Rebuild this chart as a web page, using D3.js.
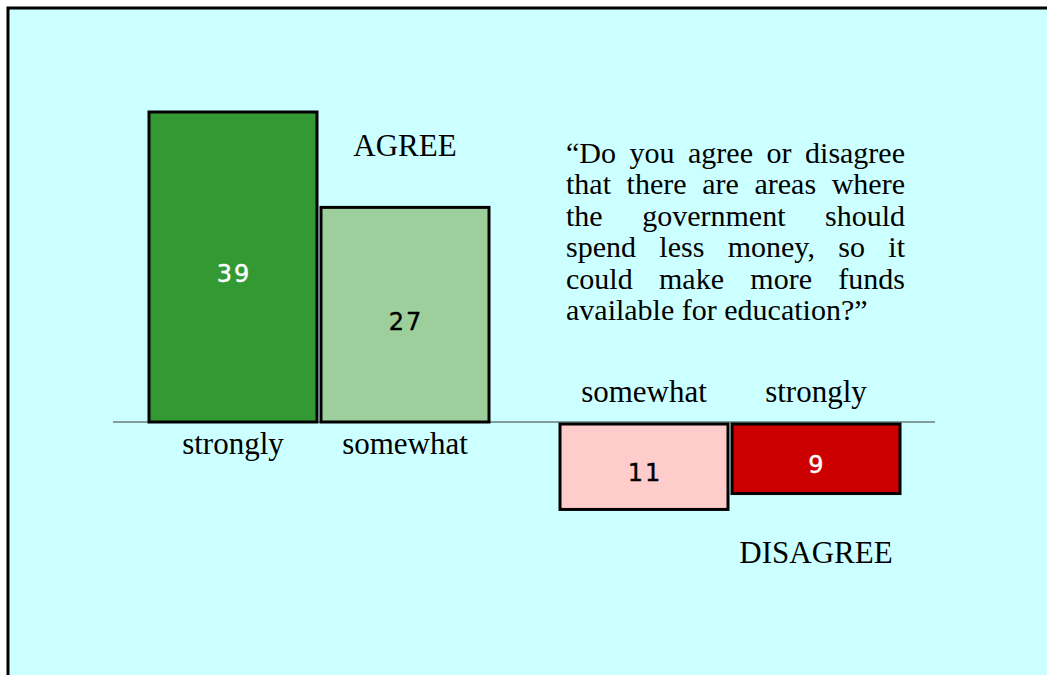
<!DOCTYPE html>
<html>
<head>
<meta charset="utf-8">
<script src="https://cdn.jsdelivr.net/npm/d3@7"></script>
<style>
  html, body { margin: 0; padding: 0; background: #ffffff; }
  svg { display: block; }
</style>
</head>
<body>
<svg id="chart" width="1047" height="675"></svg>
<script>
// Survey responses (percent)
const groups = ["AGREE", "DISAGREE"];
const levelsByGroup = {
  AGREE: ["strongly", "somewhat"],
  DISAGREE: ["somewhat", "strongly"]
};
const responseGroup = ["AGREE", "AGREE", "DISAGREE", "DISAGREE"];
const responseLevel = ["strongly", "somewhat", "somewhat", "strongly"];
const responseValue = [39, 27, 11, 9];
const responseSign = [1, 1, -1, -1];
const barColors = ["#339933", "#9ccf9c", "#ffcccc", "#cc0000"];
const valueColors = ["#ffffff", "#000000", "#000000", "#ffffff"];
const groupLabelLevel = { AGREE: "somewhat", DISAGREE: "strongly" };

const questionLines = [
  "\u201cDo you agree or disagree",
  "that there are areas where",
  "the government should",
  "spend less money, so it",
  "could make more funds",
  "available for education?\u201d"
];

const data = responseValue.map((v, i) => ({
  group: responseGroup[i],
  level: responseLevel[i],
  value: v * responseSign[i],
  label: String(v),
  fill: barColors[i],
  textColor: valueColors[i]
}));

const svg = d3.select("#chart");
const serif = "'Liberation Serif', 'Times New Roman', serif";
const sans = "'DejaVu Sans', Verdana, sans-serif";

// panel background with a heavy frame on the top and left edges
svg.append("rect")
  .attr("x", 8).attr("y", 8)
  .attr("width", 1060).attr("height", 700)
  .attr("fill", "#ccffff")
  .attr("stroke", "#000").attr("stroke-width", 3);

// scales
const x0 = d3.scaleBand().domain(groups).range([149, 900])
  .paddingInner(71 / 411).paddingOuter(0);
const x1 = {};
groups.forEach(g => {
  x1[g] = d3.scaleBand().domain(levelsByGroup[g]).range([0, x0.bandwidth()])
    .paddingInner(4 / 172).paddingOuter(0);
});
const y = d3.scaleLinear().domain([0, 39]).range([422, 112]);
const xPos = d => x0(d.group) + x1[d.group](d.level);
const bw = d => x1[d.group].bandwidth();
const gapBelow = 2;

// zero line
const [rx0, rx1] = x0.range();
svg.append("line")
  .attr("x1", rx0 - 36).attr("x2", rx1 + 35)
  .attr("y1", y(0)).attr("y2", y(0))
  .attr("stroke", "#6b7b7b").attr("stroke-width", 1.6);

// bars
svg.selectAll("rect.bar").data(data).enter().append("rect")
  .attr("class", "bar")
  .attr("x", xPos)
  .attr("width", bw)
  .attr("y", d => d.value >= 0 ? y(d.value) : y(0) + gapBelow)
  .attr("height", d => Math.abs(y(d.value) - y(0)) - (d.value < 0 ? gapBelow : 0))
  .attr("fill", d => d.fill)
  .attr("stroke", "#000").attr("stroke-width", 3);

// value labels inside bars
svg.selectAll("text.val").data(data).enter().append("text")
  .attr("class", "val")
  .attr("x", d => xPos(d) + bw(d) / 2 + 1)
  .attr("y", d => (y(d.value) + y(0)) / 2 + 15)
  .attr("text-anchor", "middle")
  .attr("font-family", sans)
  .attr("font-size", 24)
  .attr("letter-spacing", 2)
  .attr("fill", d => d.textColor)
  .attr("stroke", d => d.textColor)
  .attr("stroke-width", 0.4)
  .text(d => d.label);

// level labels: below the line for agree, above for disagree
svg.selectAll("text.level").data(data).enter().append("text")
  .attr("class", "level")
  .attr("x", d => xPos(d) + bw(d) / 2)
  .attr("y", d => d.value >= 0 ? y(0) + 32 : y(0) - 20)
  .attr("text-anchor", "middle")
  .attr("font-family", serif)
  .attr("font-size", 31)
  .attr("fill", "#000")
  .text(d => d.level);

// group labels
groups.forEach(g => {
  const lvl = groupLabelLevel[g];
  const cx = x0(g) + x1[g](lvl) + x1[g].bandwidth() / 2;
  svg.append("text")
    .attr("x", cx)
    .attr("y", g === "AGREE" ? 156 : 563)
    .attr("text-anchor", "middle")
    .attr("font-family", serif)
    .attr("font-size", 31)
    .attr("fill", "#000")
    .text(g);
});

// justified question block
const qLeft = 566, qRight = 905, qTop = 163, qLead = 31.4;
const qg = svg.append("g");
questionLines.forEach((line, i) => {
  const words = line.split(" ");
  const by = qTop + i * qLead;
  const nodes = words.map(w => qg.append("text")
    .attr("y", by)
    .attr("font-family", serif)
    .attr("font-size", 30)
    .attr("fill", "#000")
    .text(w));
  const widths = nodes.map(n => n.node().getComputedTextLength());
  const last = i === questionLines.length - 1;
  let gap;
  if (last || words.length < 2) {
    gap = 7.5;
  } else {
    gap = (qRight - qLeft - d3.sum(widths)) / (words.length - 1);
  }
  let cx = qLeft;
  nodes.forEach((n, k) => {
    n.attr("x", cx);
    cx += widths[k] + gap;
  });
});
</script>
</body>
</html>
